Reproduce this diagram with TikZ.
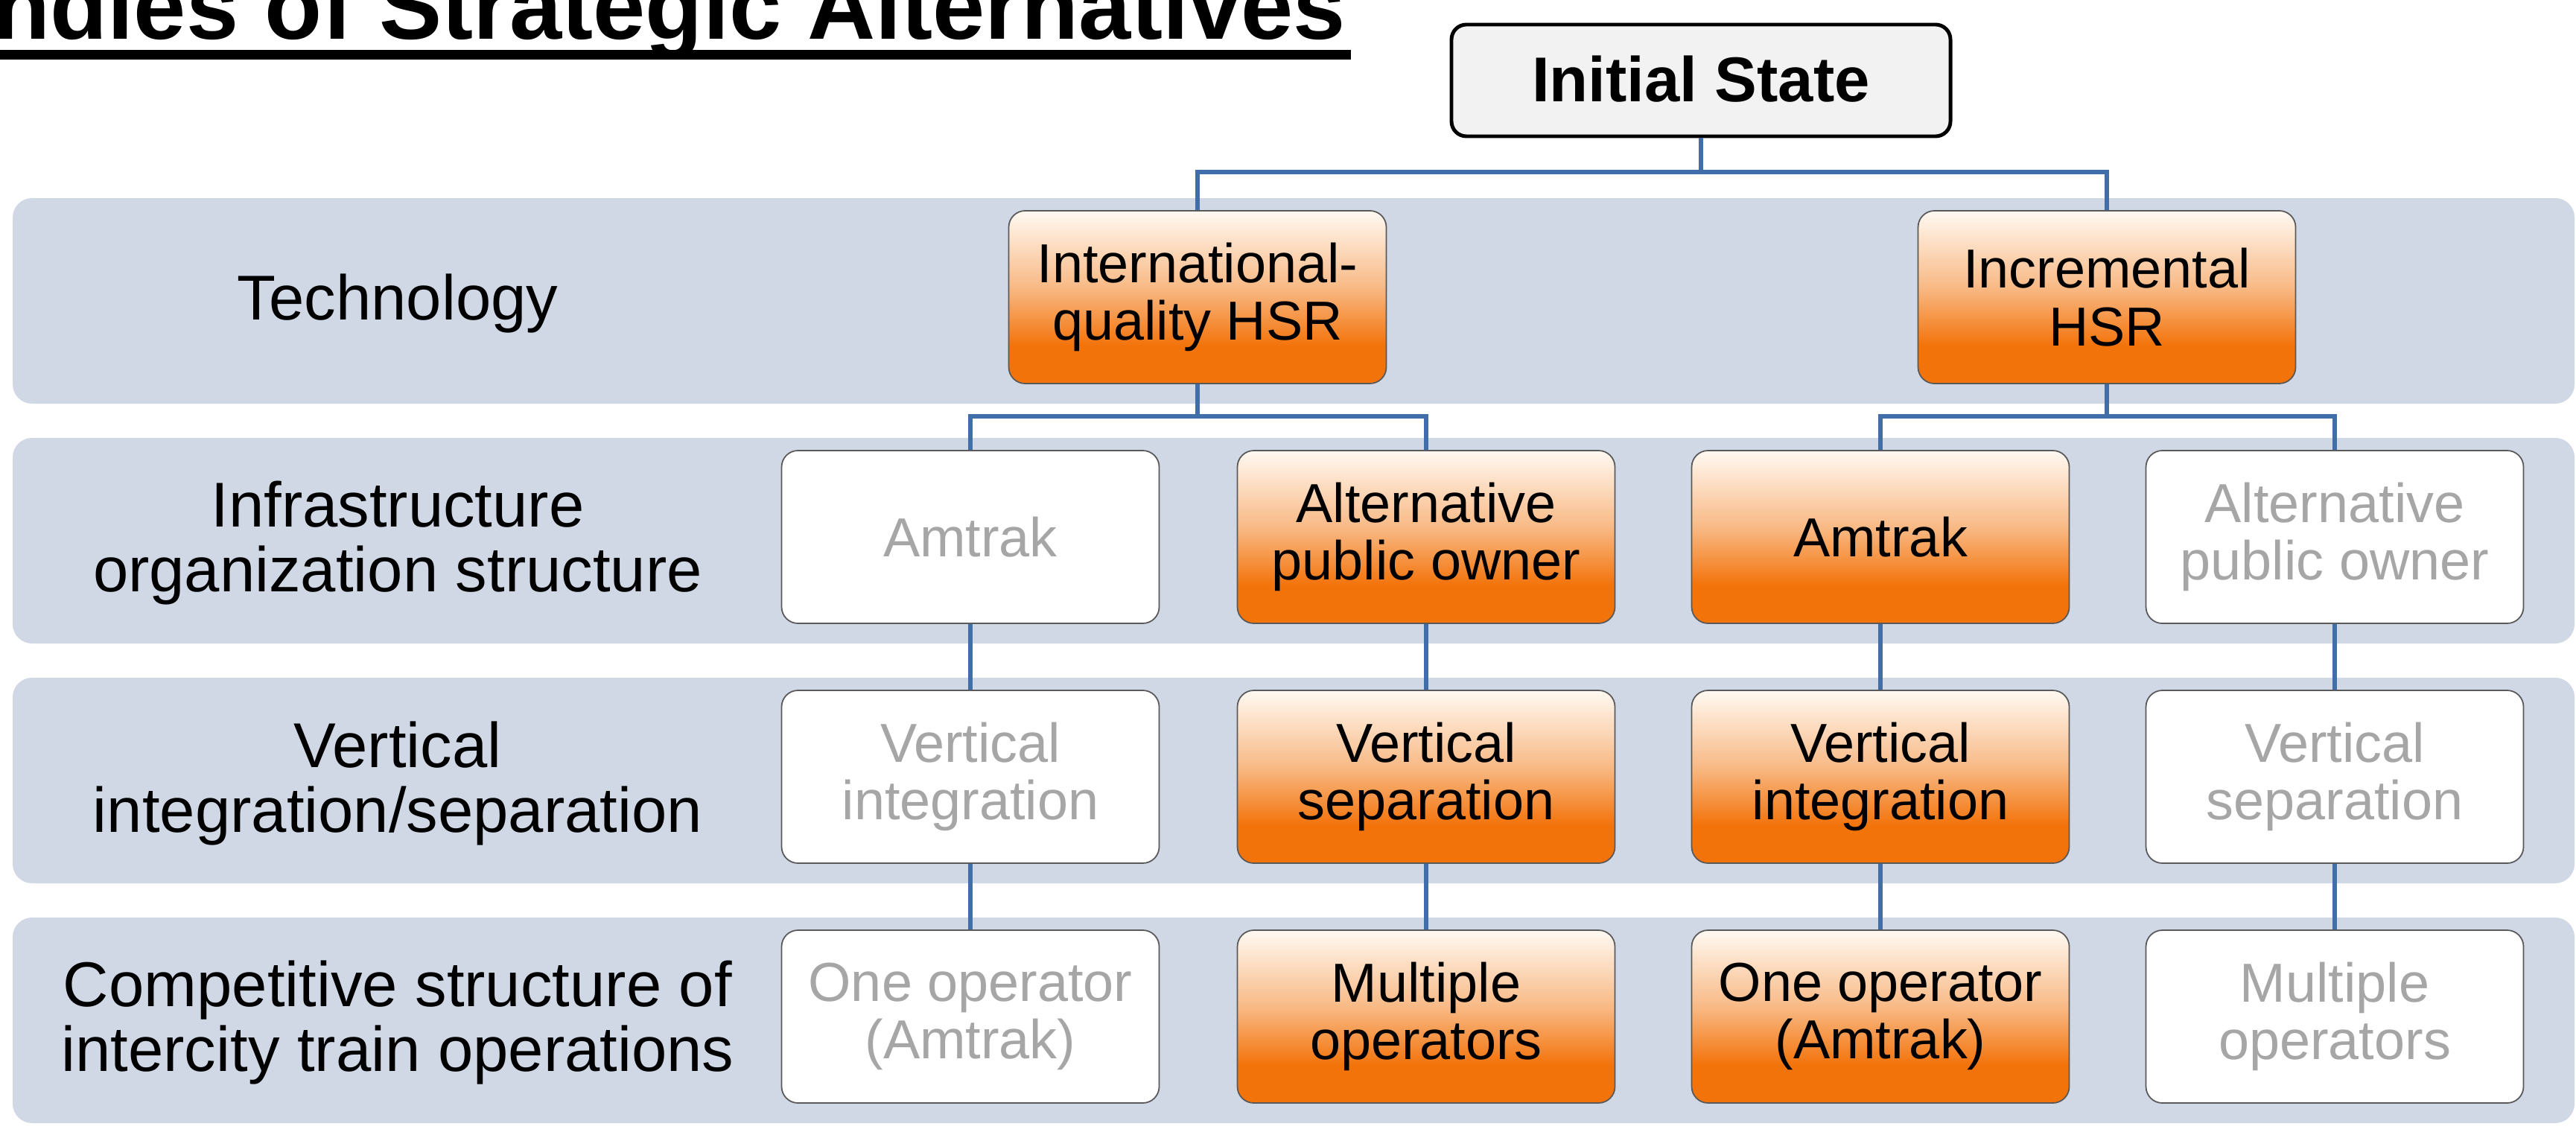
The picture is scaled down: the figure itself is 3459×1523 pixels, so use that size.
\documentclass[tikz,border=0pt]{standalone}
\usepackage{fontspec}
\setmainfont{Liberation Sans}
\usepackage{tikz}
\usepackage{xcolor}

\definecolor{bandblue}{RGB}{208,215,229}
\definecolor{linkblue}{RGB}{65,110,168}
\definecolor{hsrdark}{RGB}{243,115,11}
\definecolor{hsrmid}{RGB}{248,186,134}
\definecolor{hsrlight}{RGB}{255,249,242}
\definecolor{greytext}{RGB}{166,166,166}
\pgfdeclareverticalshading{hsrfade}{100bp}{color(0bp)=(hsrdark); color(36bp)=(hsrdark); color(53bp)=(hsrmid); color(75bp)=(hsrlight); color(100bp)=(hsrlight)}

\begin{document}
\begin{tikzpicture}[x=0.1mm,y=-0.1mm,
    band/.style={fill=bandblue,rounded corners=2.6mm},
    rowlabel/.style={align=center,font=\fontsize{24.2}{24.8}\selectfont},
    choice/.style={draw=black!65,line width=0.5pt,rounded corners=2.2mm,minimum width=50.7mm,minimum height=23.2mm,inner sep=0pt,align=center,font=\fontsize{21}{22}\selectfont},
    picked/.style={choice,shading=hsrfade},
    skipped/.style={choice,fill=white,text=greytext},
    initbox/.style={draw=black,line width=1.4pt,fill=black!5,rounded corners=2mm,minimum width=67mm,minimum height=15mm,inner sep=0pt,font=\bfseries\fontsize{24.2}{25}\selectfont},
    link/.style={draw=linkblue,line width=1.8pt}]
            \useasboundingbox (0,0) rectangle (3459,1523);
            \clip (0,0) rectangle (3459,1523);
            % title, cut by the page edge
            \node[anchor=base west,inner sep=0pt,font=\bfseries\fontsize{35.9}{36}\selectfont] (title) at (-10,53) {ndles of Strategic Alternatives};
            \fill (0,67) rectangle (1814,80);
            % the four bands
            \foreach \yc in {399,721,1043,1365}
                \fill[band] (17,{\yc-133}) rectangle (3457,{\yc+143});
            \node[rowlabel] (lab1) at (534,408) {Technology};
            \node[rowlabel] (lab2) at (534,729) {Infrastructure\\organization structure};
            \node[rowlabel] (lab3) at (534,1052) {Vertical\\integration/separation};
            \node[rowlabel] (lab4) at (534,1373) {Competitive structure of\\intercity train operations};
            % tree
            \node[initbox] (init) at (2284,108) {\raisebox{1.5pt}{Initial State}};
            \node[picked] (tech1) at (1608,399) {International-\\quality HSR};
            \node[picked] (tech2) at (2829,399) {Incremental\\HSR};
            \node[skipped] (infra1) at (1303,721) {Amtrak};
            \node[picked] (infra2) at (1915,721) {Alternative\\public owner};
            \node[picked] (infra3) at (2525,721) {Amtrak};
            \node[skipped] (infra4) at (3135,721) {Alternative\\public owner};
            \node[skipped] (integ1) at (1303,1043) {Vertical\\integration};
            \node[picked] (integ2) at (1915,1043) {Vertical\\separation};
            \node[picked] (integ3) at (2525,1043) {Vertical\\integration};
            \node[skipped] (integ4) at (3135,1043) {Vertical\\separation};
            \node[skipped] (comp1) at (1303,1365) {One operator\\(Amtrak)};
            \node[picked] (comp2) at (1915,1365) {Multiple\\operators};
            \node[picked] (comp3) at (2525,1365) {One operator\\(Amtrak)};
            \node[skipped] (comp4) at (3135,1365) {Multiple\\operators};
            \coordinate (fork0) at (init.south |- 0,231);
            \coordinate (fork1) at (tech1.south |- 0,559);
            \coordinate (fork2) at (tech2.south |- 0,559);
            \draw[link] (init.south) -- (fork0) -| (tech1.north);
            \draw[link] (fork0) -| (tech2.north);
            \draw[link] (tech1.south) -- (fork1) -| (infra1.north);
            \draw[link] (fork1) -| (infra2.north);
            \draw[link] (tech2.south) -- (fork2) -| (infra3.north);
            \draw[link] (fork2) -| (infra4.north);
            \foreach \c in {1,...,4} {
                \draw[link] (infra\c) -- (integ\c);
                \draw[link] (integ\c) -- (comp\c);
            }
        \end{tikzpicture}
\end{document}
